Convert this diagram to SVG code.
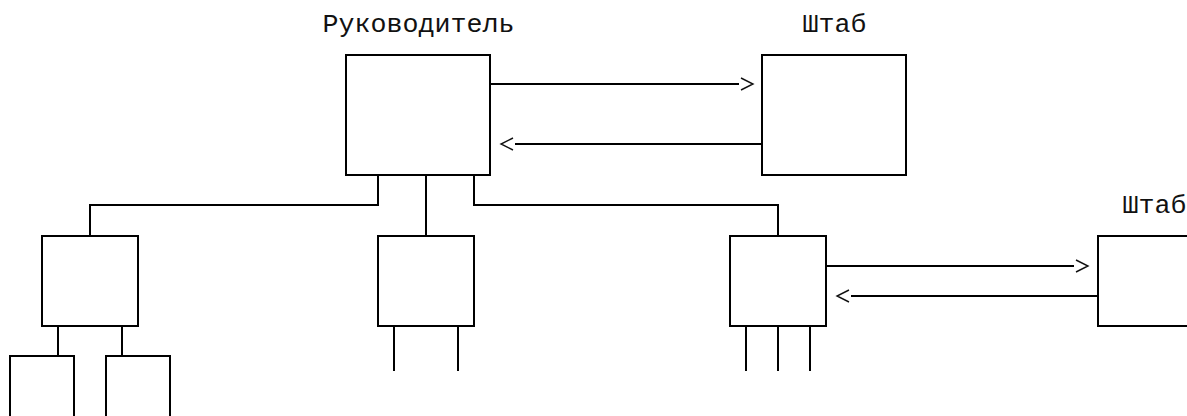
<svg xmlns="http://www.w3.org/2000/svg" width="1187" height="416" viewBox="0 0 1187 416">
  <style>
    .box { fill: none; stroke: #000; stroke-width: 2; }
    .wire { fill: none; stroke: #000; stroke-width: 2; }
    .flow { fill: none; stroke: #000; stroke-width: 2; marker-end: url(#chevron); }
    .label { font-family: "Liberation Mono", "Courier New", monospace; font-size: 26.67px; fill: #111; }
  </style>
  <defs>
    <!-- open chevron drawn a little past the end of each flow line -->
    <marker id="chevron" markerUnits="userSpaceOnUse" viewBox="0 -8 18 16" markerWidth="18" markerHeight="16" refX="0" refY="0" orient="auto">
      <path d="M2,-6 L14,0 L2,6" fill="none" stroke="#111" stroke-width="1.4"/>
    </marker>
  </defs>
  <rect width="1187" height="416" fill="#fff"/>

  <!-- head -->
  <g id="head">
    <text class="label" x="322.5" y="32">Руководитель</text>
    <rect class="box" x="346" y="55" width="144" height="120"/>
  </g>

  <!-- upper staff -->
  <g id="staff-top">
    <text class="label" x="802.5" y="32">Штаб</text>
    <rect class="box" x="762" y="55" width="144" height="120"/>
  </g>

  <!-- second-level units -->
  <g id="unit-left">
    <rect class="box" x="42" y="236" width="96" height="90"/>
  </g>
  <g id="unit-middle">
    <rect class="box" x="378" y="236" width="96" height="90"/>
  </g>
  <g id="unit-right">
    <rect class="box" x="730" y="236" width="96" height="90"/>
  </g>

  <!-- staff of the right unit -->
  <g id="staff-right">
    <text class="label" x="1122.5" y="213">Штаб</text>
    <rect class="box" x="1098" y="236" width="120" height="90"/>
  </g>

  <!-- third-level units -->
  <g id="sub-unit-a">
    <rect class="box" x="10" y="356" width="64" height="90"/>
  </g>
  <g id="sub-unit-b">
    <rect class="box" x="106" y="356" width="64" height="90"/>
  </g>

  <g id="connectors">
    <!-- reporting lines -->
    <path class="wire" d="M378,175 V205 H90 V236"/>
    <path class="wire" d="M426,175 V236"/>
    <path class="wire" d="M474,175 V205 H778 V236"/>
    <path class="wire" d="M58,326 V356"/>
    <path class="wire" d="M122,326 V356"/>
    <path class="wire" d="M394,326 V371"/>
    <path class="wire" d="M458,326 V371"/>
    <path class="wire" d="M746,326 V371"/>
    <path class="wire" d="M778,326 V371"/>
    <path class="wire" d="M810,326 V371"/>
    <!-- head <-> staff -->
    <path class="flow" d="M490,84 H739"/>
    <path class="flow" d="M762,144 H515"/>
    <!-- unit <-> staff -->
    <path class="flow" d="M826,266 H1074"/>
    <path class="flow" d="M1098,296 H851"/>
  </g>
</svg>
